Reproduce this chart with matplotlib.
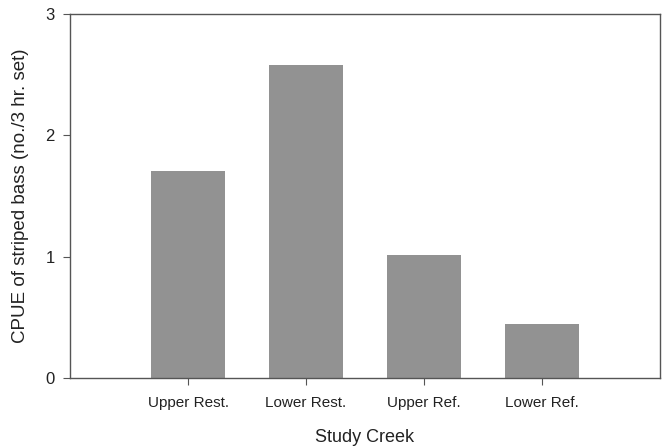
import matplotlib
matplotlib.use("Agg")
import matplotlib.pyplot as plt

creeks = ["Upper Rest.", "Lower Rest.", "Upper Ref.", "Lower Ref."]
cpue = [1.71, 2.58, 1.01, 0.445]
yticks = [0, 1, 2, 3]

plt.rcParams["font.family"] = ["Liberation Sans", "DejaVu Sans"]

fig = plt.figure(figsize=(6.63, 4.47), dpi=100)
ax = fig.add_axes([0.1056, 0.1544, 0.8899, 0.8143])

x = range(len(creeks))
ax.bar(x, cpue, width=0.63, color="#929292", edgecolor="none")

ax.set_xlim(-1, 4)
ax.set_ylim(0, 3)
ax.set_xticks(list(x))
ax.set_xticklabels(creeks, fontsize=11)
ax.set_yticks(yticks)
ax.set_yticklabels([str(t) for t in yticks], fontsize=12)
ax.tick_params(direction="out", length=5, color="#555555", labelcolor="#222222")
ax.tick_params(axis="x", pad=8)
ax.tick_params(axis="y", pad=6)

for s in ax.spines.values():
    s.set_color("#555555")
    s.set_linewidth(1.0)

ax.set_xlabel("Study Creek", fontsize=13, color="#222222", labelpad=14)
ax.set_ylabel("CPUE of striped bass (no./3 hr. set)", fontsize=13.5, color="#222222", labelpad=12)

fig.savefig("out.png", dpi=100)
